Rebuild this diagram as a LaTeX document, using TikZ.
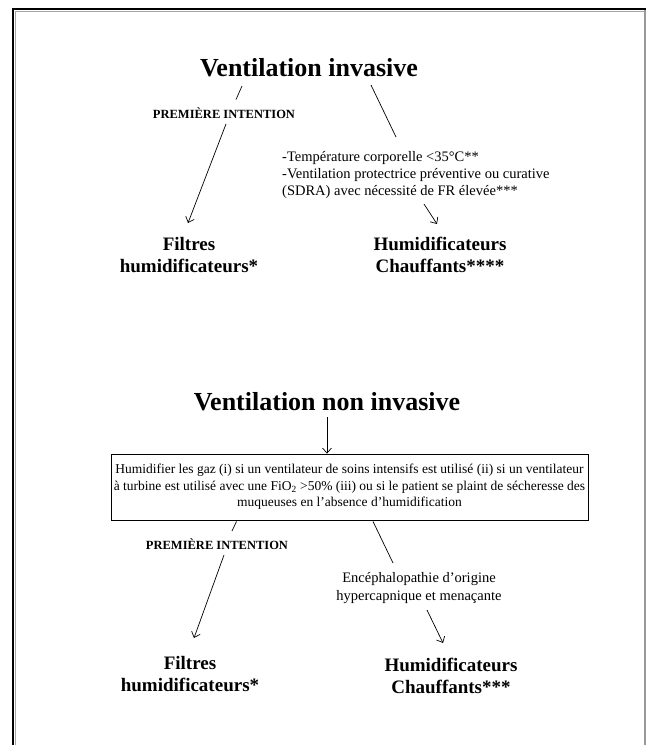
\documentclass[tikz,border=0pt]{standalone}
\usepackage{fontspec}
\setmainfont{Liberation Serif}
\usetikzlibrary{arrows.meta}
\tikzset{
  ttl/.style={font=\fontsize{26}{30}\selectfont\bfseries, inner sep=0pt, anchor=base},
  prem/.style={font=\fontsize{12.5}{15}\selectfont\bfseries, inner sep=0pt, anchor=base},
  res/.style={font=\fontsize{19}{22}\selectfont\bfseries, inner sep=0pt, align=center, anchor=north},
  note/.style={font=\fontsize{14.5}{17.2}\selectfont, inner sep=0pt},
  conn/.style={line width=0.7pt},
  arr/.style={conn, -{Straight Barb[length=5pt,width=9pt]}},
}
\begin{document}
\begin{tikzpicture}[x=1pt,y=-1pt]
\useasboundingbox (0,0) rectangle (646,745);
% frame
\draw[line width=1pt, black!35] (15.5,745) -- (15.5,11.5) -- (644,11.5);
\draw[line width=1.2pt, black!40] (645,9) -- (645,745);
\draw[line width=2.4pt, black] (13,745) -- (13,9) -- (646,9);

% upper part
\node[ttl] (t1) at (309,76) {Ventilation invasive};
\node[prem] (p1) at (224,118.5) {PREMIÈRE INTENTION};
\node[note, anchor=north west, align=left] (b1) at (282,151)
  {-Température corporelle <35°C**\\-Ventilation protectrice préventive ou curative\\(SDRA) avec nécessité de FR élevée***};
\node[res] (r1l) at (189,237) {Filtres\\humidificateurs*};
\node[res] (r1r) at (440,237) {Humidificateurs\\Chauffants****};

\draw[conn] ([shift={(-67,10)}]t1.base) -- ([shift={(12,-19)}]p1.base);
\draw[arr] ([shift={(2,5.5)}]p1.base) -- ([shift={(-1,-14)}]r1l.north);
\draw[conn] ([shift={(62,9)}]t1.base) -- ([shift={(114,-14)}]b1.north west);
\draw[arr] ([shift={(142,53)}]b1.north west) -- ([shift={(-3,-13)}]r1r.north);

% lower part
\node[ttl] (t2) at (327,410) {Ventilation non invasive};
\node[draw, line width=0.9pt, minimum width=477pt, minimum height=66pt, inner sep=0pt,
      align=center, font=\fontsize{13.5}{16.5}\selectfont] (box) at (349.5,487)
  {Humidifier les gaz (i) si un ventilateur de soins intensifs est utilisé (ii) si un ventilateur\\
   à turbine est utilisé avec une FiO\textsubscript{2} >50\% (iii) ou si le patient se plaint de sécheresse des\\
   muqueuses en l’absence d’humidification};
\node[prem] (p2) at (217,549) {PREMIÈRE INTENTION};
\node[note, anchor=north, align=center, font=\fontsize{14.5}{18.5}\selectfont] (b2) at (419,572)
  {Encéphalopathie d’origine\\hypercapnique et menaçante};
\node[res] (r2l) at (190,656) {Filtres\\humidificateurs*};
\node[res] (r2r) at (451,658) {Humidificateurs\\Chauffants***};

\draw[arr] ([shift={(0,7)}]t2.base) -- (t2.base |- box.north);
\draw[conn] ([shift={(-113,1)}]box.south) -- ([shift={(15,-18)}]p2.base);
\draw[arr] ([shift={(7,6)}]p2.base) -- ([shift={(4,-18)}]r2l.north);
\draw[conn] ([shift={(23.5,1)}]box.south) -- ([shift={(-26,-9)}]b2.north);
\draw[arr] ([shift={(8,38)}]b2.north) -- ([shift={(-8,-15)}]r2r.north);
\end{tikzpicture}
\end{document}
